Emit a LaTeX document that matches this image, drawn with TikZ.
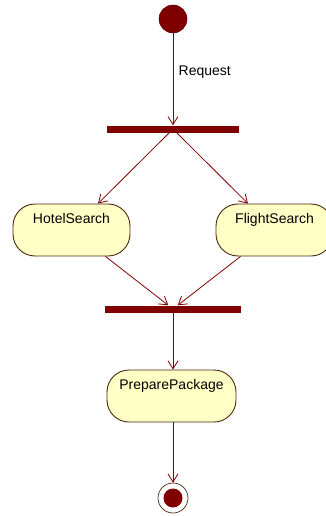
\documentclass[tikz,border=0pt]{standalone}
\usepackage{fontspec}
\setmainfont{Liberation Sans}
\usetikzlibrary{arrows.meta}
\definecolor{umlred}{HTML}{800000}
\definecolor{actfill}{HTML}{FFFFC6}
\definecolor{actline}{HTML}{4A2A10}
\begin{document}
\begin{tikzpicture}[x=1pt,y=-1pt,
  font=\fontsize{14}{16}\selectfont,
  flow/.style={draw=umlred, line width=0.8pt, -{Straight Barb[length=8pt,width=10pt]}},
  activity/.style={draw=actline, line width=0.9pt, fill=actfill, rounded corners=22pt,
    minimum height=52pt, inner sep=0pt},
  actname/.style={anchor=north, inner sep=0pt, yshift=-10pt},
  syncbar/.style={fill=umlred, draw=none, inner sep=0pt, minimum height=7pt},
  initial/.style={circle, fill=umlred, draw=umlred!70!black, line width=0.5pt, minimum size=28pt, inner sep=0pt},
  finalring/.style={circle, fill=white, draw=actline, line width=0.7pt, minimum size=30pt, inner sep=0pt},
  finaldot/.style={circle, fill=umlred, minimum size=19pt, inner sep=0pt}]
\useasboundingbox (0,0) rectangle (326,516);

% initial state and fork
\node[initial] (start) at (173,19) {};
\node[syncbar, minimum width=132pt] (fork) at (173,129) {};
\draw[flow] (start) -- node[right, xshift=2pt, pos=0.42] (req) {Request} (fork);

% parallel activities
\node[activity, minimum width=117pt] (hotel) at (71.5,230) {};
\node[actname] (hotelname) at (hotel.north) {HotelSearch};
\node[activity, minimum width=117pt] (flight) at (274.5,230) {};
\node[actname] (flightname) at (flight.north) {FlightSearch};
\draw[flow] (fork) -- (hotel);
\draw[flow] (fork) -- (flight);

% join
\node[syncbar, minimum width=136pt] (join) at (173,309) {};
\draw[flow] (hotel) -- (join);
\draw[flow] (flight) -- (join);

% final activity and end state
\node[activity, minimum width=129pt] (prepare) at (171.5,396) {};
\node[actname] (preparename) at (prepare.north) {PreparePackage};
\draw[flow] (join.south) -- (join.south |- prepare.north);

\node[finalring] (final) at (173,498) {};
\node[finaldot] (finalin) at (final.center) {};
\draw[flow] (prepare.south -| final) -- (final.north);
\end{tikzpicture}
\end{document}
